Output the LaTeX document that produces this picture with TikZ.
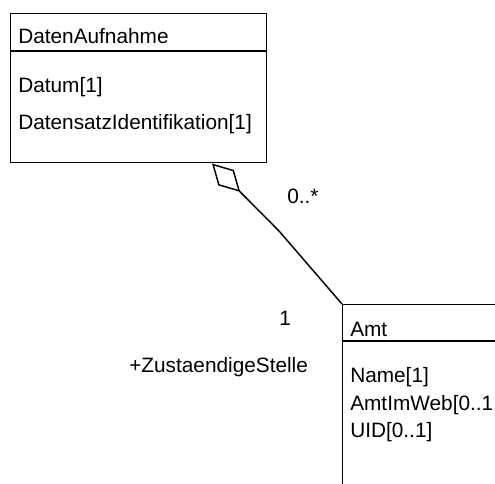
\documentclass[tikz,border=0pt]{standalone}
\usepackage{fontspec}
\setmainfont{Liberation Sans}
\usetikzlibrary{arrows.meta}
\begin{document}
\begin{tikzpicture}[x=0.75pt,y=-0.75pt,
  lbl/.style={anchor=base west, inner sep=0pt, font=\fontsize{15.6}{18}\selectfont},
  cls/.style={draw, line width=1.1pt, inner sep=0pt, anchor=north west},
  ln/.style={line width=1.1pt}]
\useasboundingbox (0,0) rectangle (495,483);
\clip (0,0) rectangle (495,483);
% classes
\node[cls, minimum width=192pt, minimum height=111.75pt] (da) at (10,13) {};
\draw[ln] (10,51) -- (266,51);
\node[cls, minimum width=140pt, minimum height=150pt] (amt) at (342,304) {};
\draw[ln] (342,341) -- (520,341);
% association
\coordinate (dtip) at (212,163.5);
\coordinate (bend) at (279,231);
\draw[ln, {Diamond[open, length=30pt, width=16.5pt]}-] (dtip) -- (bend) -- (amt.north west);
% texts
\node[lbl] (t1) at (18,43) {DatenAufnahme};
\node[lbl] (t2) at (18,92) {Datum[1]};
\node[lbl] (t3) at (18,129) {DatensatzIdentifikation[1]};
\node[lbl] (m1) at (287,203) {0..*};
\node[lbl] (m2) at (279,325) {1};
\node[lbl] (role) at (129,372) {+ZustaendigeStelle};
\node[lbl] (a1) at (350,336) {Amt};
\node[lbl] (a2) at (350,382) {Name[1]};
\node[lbl] (a3) at (350,410) {AmtImWeb[0..1};
\node[lbl] (a4) at (350,437) {UID[0..1]};
\end{tikzpicture}
\end{document}
